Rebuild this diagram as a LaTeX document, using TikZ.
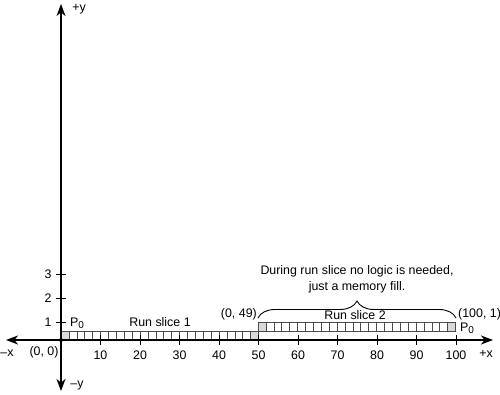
\documentclass[tikz,border=0pt]{standalone}
\usepackage{fontspec}
\setmainfont{Liberation Sans}
\usetikzlibrary{arrows.meta,decorations.pathreplacing}
\newcommand{\Pzero}{P\raisebox{-1.8pt}{\fontsize{10}{10}\selectfont 0}}
\begin{document}
\begin{tikzpicture}[x=1pt,y=-1pt,
  axis/.style={line width=1.3pt,-{Stealth[length=12pt,width=9pt,inset=3.5pt]}},
  lbl/.style={font=\fontsize{12.4}{16}\selectfont, inner sep=0pt},
  cell/.style={draw=black!70, line width=0.5pt},
  endcell/.style={cell, fill=black!15},
  tickmark/.style={line width=1pt}]
\useasboundingbox (0,0) rectangle (500,395);
% key points
\coordinate (O) at (61,340);
\coordinate (yt) at (61,4);
\coordinate (yb) at (61,391);
\coordinate (xl) at (6,340);
\coordinate (xr) at (493,340);
% run slice 1 cells
\foreach \i in {0,...,24} {
  \draw[cell] ({61+\i*7.9},331) rectangle ({61+(\i+1)*7.9},340);
}
\draw[endcell] (61,331) rectangle (68.9,340);
\draw[endcell] (250.1,331) rectangle (258,340);
% run slice 2 cells
\foreach \i in {0,...,24} {
  \draw[cell] ({258+\i*7.9},322) rectangle ({258+(\i+1)*7.9},331);
}
\draw[endcell] (258,322) rectangle (265.9,331);
\draw[endcell] (447.1,322) rectangle (455,331);
% axes
\draw[axis] (O) -- (yt);
\draw[axis] (O) -- (yb);
\draw[axis] (O) -- (xl);
\draw[axis] (O) -- (xr);
\fill (O) circle (2pt);
% x ticks
\foreach \v in {10,20,...,100} {
  \draw[tickmark] ({61+3.95*\v},335) -- ({61+3.95*\v},345);
  \node[lbl] (tx\v) at ({61+3.95*\v},355) {\v};
}
% y ticks
\foreach \yy/\l in {322/1,298/2,274/3} {
  \draw[tickmark] (56,\yy) -- (66,\yy);
  \node[lbl] (ty\l) at (48,\yy) {\l};
}
% axis labels
\node[lbl] (py) at (79,9) {+y};
\node[lbl] (my) at (77,386) {–y};
\node[lbl] (mx) at (7,353) {–x};
\node[lbl] (px) at (486,354) {+x};
\node[lbl] (orig) at (44,352) {(0, 0)};
% labels on slices
\node[lbl] (p0a) at (77,323) {\Pzero};
\node[lbl] (p0b) at (467,328) {\Pzero};
\node[lbl] (rs1) at (160,322) {Run slice 1};
\node[lbl] (rs2) at (355,315) {Run slice 2};
\node[lbl,anchor=east] (c049) at (257,314) {(0, 49)};
\node[lbl,anchor=west] (c1001) at (458,314) {(100, 1)};
% brace and note
\coordinate (bl) at (258,318);
\coordinate (br) at (456,318);
\draw[line width=0.9pt, decorate, decoration={brace, amplitude=17pt}] (bl) -- (br);
\node[lbl, align=center] (note) at (357,279) {During run slice no logic is needed,\\just a memory fill.};
\end{tikzpicture}
\end{document}
